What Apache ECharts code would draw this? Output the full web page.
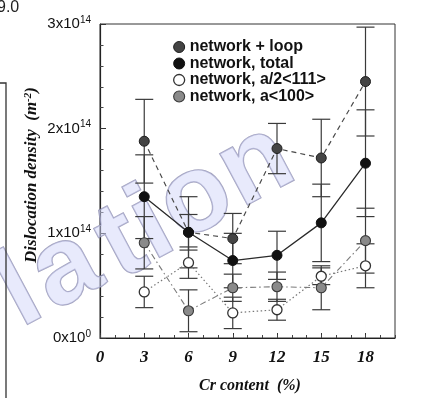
<!DOCTYPE html>
<html>
<head>
<meta charset="utf-8">
<script src="https://cdn.jsdelivr.net/npm/echarts@6/dist/echarts.min.js"></script>
<style>
  html, body { margin: 0; padding: 0; background: #fff; }
  #chart { width: 428px; height: 398px; }
</style>
</head>
<body>
<div id="chart"></div>
<script>
// Cr content of the alloys (%)
const crContent = [3, 6, 9, 12, 15, 18];

// Dislocation densities (m^-2) and their error half-widths
const netLoop     = [1.88e14, 1.01e14, 0.95e14, 1.81e14, 1.72e14, 2.45e14];
const netLoopErr  = [0.40e14, 0.34e14, 0.24e14, 0.24e14, 0.37e14, 0.52e14];
const netTotal    = [1.35e14, 1.01e14, 0.74e14, 0.79e14, 1.10e14, 1.67e14];
const netTotalErr = [0.40e14, 0.17e14, 0.26e14, 0.23e14, 0.37e14, 0.51e14];
const netA111     = [0.44e14, 0.72e14, 0.24e14, 0.27e14, 0.59e14, 0.69e14];
const netA111Err  = [0.15e14, 0.15e14, 0.15e14, 0.10e14, 0.08e14, 0.21e14];
const netA100     = [0.91e14, 0.26e14, 0.48e14, 0.49e14, 0.48e14, 0.93e14];
const netA100Err  = [0.25e14, 0.20e14, 0.13e14, 0.14e14, 0.21e14, 0.31e14];

const seriesNames = ['network + loop', 'network, total', 'network, a/2<111>', 'network, a<100>'];

// y tick labels as mantissa / exponent pairs
const yTickValues = [0, 1e14, 2e14, 3e14];
const yTickMantissa = ['0', '1', '2', '3'];
const yTickExponent = ['0', '14', '14', '14'];

const serif = '"Liberation Serif", "DejaVu Serif", serif';
const sans = '"Liberation Sans", Arial, sans-serif';

const styles = [
  { item: { color: '#444', borderColor: '#1e1e1e', borderWidth: 1 },
    line: { color: '#4a4a4a', width: 1.2, type: [5, 4] } },
  { item: { color: '#111', borderColor: '#111', borderWidth: 1 },
    line: { color: '#2a2a2a', width: 1.3, type: 'solid' } },
  { item: { color: '#fff', borderColor: '#333', borderWidth: 1.3 },
    line: { color: '#777', width: 1.2, type: [1.5, 2.5] } },
  { item: { color: '#8a8a8a', borderColor: '#3a3a3a', borderWidth: 1.1 },
    line: { color: '#7a7a7a', width: 1.1, type: [6, 3, 1.5, 3] } }
];

const values = [netLoop, netTotal, netA111, netA100];
const errors = [netLoopErr, netTotalErr, netA111Err, netA100Err];

function errorBars(idx) {
  return {
    type: 'custom',
    name: seriesNames[idx] + ' error',
    silent: true,
    z: 2,
    data: crContent.map((x, i) => [x, values[idx][i] - errors[idx][i], values[idx][i] + errors[idx][i]]),
    encode: { x: 0, y: [1, 2] },
    renderItem(params, api) {
      const lo = api.coord([api.value(0), api.value(1)]);
      const hi = api.coord([api.value(0), api.value(2)]);
      const hw = 9;
      const st = { stroke: '#3a3a3a', lineWidth: 1.2 };
      return {
        type: 'group',
        children: [
          { type: 'line', shape: { x1: lo[0], y1: lo[1], x2: hi[0], y2: hi[1] }, style: st },
          { type: 'line', shape: { x1: lo[0] - hw, y1: lo[1], x2: lo[0] + hw, y2: lo[1] }, style: st },
          { type: 'line', shape: { x1: hi[0] - hw, y1: hi[1], x2: hi[0] + hw, y2: hi[1] }, style: st }
        ]
      };
    }
  };
}

function lineSeries(idx) {
  return {
    type: 'line',
    name: seriesNames[idx],
    data: crContent.map((x, i) => [x, values[idx][i]]),
    symbol: 'circle',
    symbolSize: 10,
    itemStyle: styles[idx].item,
    lineStyle: styles[idx].line,
    z: 3,
    animation: false
  };
}

// Watermark letters laid out along a slanted baseline
const wmLetters = ['l', 'a', 't', 'i', 'o', 'n'];
const wmPos = [[20, 294], [66, 270], [122, 245], [152, 227], [196, 200], [256, 166]];
const wmElements = wmLetters.map((ch, i) => ({
  type: 'text',
  x: wmPos[i][0],
  y: wmPos[i][1],
  rotation: 0.49,
  z: 1,
  silent: true,
  style: {
    text: ch,
    font: 'bold 110px ' + sans,
    align: 'center',
    verticalAlign: 'middle',
    fill: 'rgba(210,214,250,0.5)',
    stroke: 'rgba(140,140,175,0.8)',
    lineWidth: 1.4
  }
}));

const chart = echarts.init(document.getElementById('chart'), null, { renderer: 'canvas' });

chart.setOption({
  animation: false,
  backgroundColor: '#fff',
  grid: {
    left: 100, right: 33, top: 24, bottom: 60,
    show: true, borderColor: '#333', borderWidth: 1, backgroundColor: 'transparent'
  },
  legend: {
    orient: 'vertical',
    left: 173,
    top: 39,
    padding: 0,
    itemGap: 0.5,
    itemWidth: 11,
    itemHeight: 11,
    textStyle: { fontFamily: sans, fontWeight: 'bold', fontSize: 16, lineHeight: 16, color: '#111' },
    data: seriesNames.map((n, i) => ({ name: n, icon: 'circle', itemStyle: styles[i].item }))
  },
  xAxis: [
    {
      type: 'value', min: 0, max: 20, interval: 3,
      axisLine: { lineStyle: { color: '#222', width: 1.2 } },
      axisTick: { inside: true, length: 5, lineStyle: { color: '#333' } },
      axisLabel: {
        showMaxLabel: false,
        margin: 11,
        fontFamily: serif, fontStyle: 'italic', fontWeight: 'bold', fontSize: 17, color: '#111'
      },
      splitLine: { show: false }
    },
    {
      type: 'value', min: 0, max: 20, interval: 1, position: 'bottom',
      axisLine: { show: false },
      axisTick: { inside: true, length: 3, lineStyle: { color: '#444' } },
      axisLabel: { show: false },
      splitLine: { show: false }
    }
  ],
  yAxis: {
    type: 'value', min: 0, max: 3e14, interval: 1e14,
    axisLine: { show: true, lineStyle: { color: '#222', width: 1.2 } },
    axisTick: { inside: true, length: 6, lineStyle: { color: '#333' } },
    minorTick: { show: true, splitNumber: 5, length: 3.5, lineStyle: { color: '#444' } },
    splitLine: { show: false },
    axisLabel: {
      margin: 9,
      formatter: v => {
        const i = yTickValues.indexOf(v);
        if (i < 0) return '';
        return '{m|' + yTickMantissa[i] + 'x10}{e|' + yTickExponent[i] + '}';
      },
      rich: {
        m: { fontFamily: sans, fontSize: 15, lineHeight: 18, color: '#111' },
        e: { fontFamily: sans, fontSize: 10, lineHeight: 10, verticalAlign: 'top', color: '#111' }
      }
    }
  },
  graphic: [
    ...wmElements,
    {
      type: 'text', x: 32, y: 175, rotation: Math.PI / 2, z: 5,
      style: {
        text: '{t|Dislocation density  (m}{s|-2}{t|)}',
        align: 'center', verticalAlign: 'middle',
        rich: {
          t: { font: 'italic bold 17px ' + serif, fill: '#111', lineHeight: 19 },
          s: { font: 'italic bold 11px ' + serif, fill: '#111', lineHeight: 11, verticalAlign: 'top' }
        }
      }
    },
    {
      type: 'text', x: 250, y: 386, z: 5,
      style: {
        text: 'Cr content  (%)',
        font: 'italic bold 16px ' + serif, fill: '#111',
        align: 'center', verticalAlign: 'middle'
      }
    },
    {
      type: 'text', x: -3, y: 0, z: 5,
      style: { text: '9.0', font: '16px ' + sans, fill: '#222', align: 'left', verticalAlign: 'top' }
    },
    {
      type: 'polyline', z: 5, silent: true,
      shape: { points: [[0, 83], [6, 83], [6, 398]] },
      style: { stroke: '#333', lineWidth: 1.3, fill: null }
    }
  ],
  series: [
    errorBars(0), errorBars(1), errorBars(2), errorBars(3),
    lineSeries(0), lineSeries(1), lineSeries(2), lineSeries(3)
  ]
});
</script>
</body>
</html>
